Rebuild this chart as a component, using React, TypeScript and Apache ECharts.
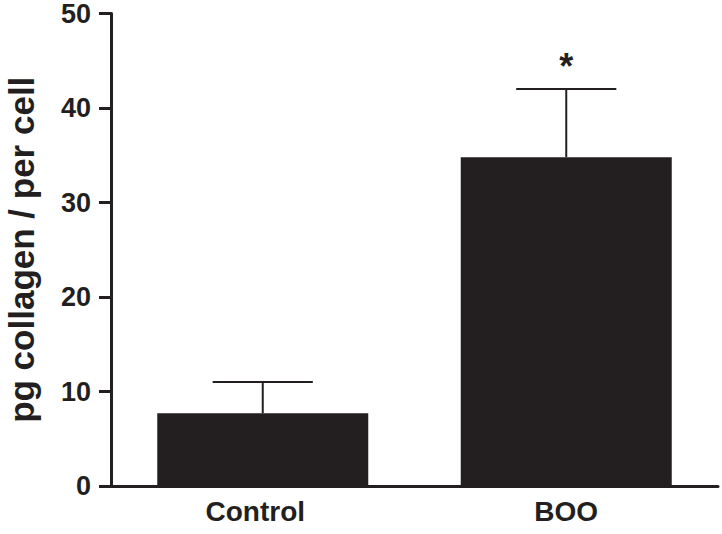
import React, { useEffect, useRef } from "react";
import * as echarts from "echarts";

const categories = ["Control", "BOO"];
const means = [7.7, 34.8];
const upperErrors = [11.0, 42.0];
const markers = ["", "*"];
const yTicks = { min: 0, max: 50, interval: 10 };

const INK = "#231f20";
const FONT = '"Liberation Sans", Arial, Helvetica, sans-serif';

export default function App() {
  const ref = useRef<HTMLDivElement>(null);
  useEffect(() => {
    if (!ref.current) return;
    const chart = echarts.init(ref.current, null, { renderer: "svg" });
    const labelFont = { color: INK, fontFamily: FONT, fontWeight: "bold" as const, fontSize: 28 };
    chart.setOption({
      animation: false,
      backgroundColor: "#ffffff",
      grid: {
        left: 111,
        right: 4,
        top: 13.5,
        bottom: 48,
        containLabel: false,
        outerBoundsMode: "none",
      },
      xAxis: {
        type: "category",
        data: categories,
        axisLine: { show: true, lineStyle: { color: INK, width: 3 } },
        axisTick: { show: false },
        axisLabel: {
          ...labelFont,
          margin: 11,
          formatter: (v: string, idx: number) => (idx === 0 ? `{shift|${v}}` : `{n|${v}}`),
          rich: {
            shift: { ...labelFont, padding: [0, 15, 0, 0] },
            n: { ...labelFont },
          },
        },
      },
      yAxis: {
        type: "value",
        min: yTicks.min,
        max: yTicks.max,
        interval: yTicks.interval,
        name: "pg collagen / per cell",
        nameLocation: "middle",
        nameGap: 72,
        nameTextStyle: {
          color: INK,
          fontFamily: FONT,
          fontWeight: "bold",
          fontSize: 35,
          lineHeight: 36,
        },
        splitLine: { show: false },
        axisLine: { show: true, lineStyle: { color: INK, width: 3 } },
        axisTick: { show: true, length: 12, lineStyle: { color: INK, width: 3 } },
        axisLabel: {
          ...labelFont,
          fontSize: 27,
          lineHeight: 24,
          padding: [4, 0, 0, 0],
          margin: 20,
        },
      },
      series: [
        {
          type: "bar",
          data: means,
          barWidth: 211,
          itemStyle: { color: INK },
          z: 2,
        },
        {
          type: "custom",
          z: 3,
          data: categories.map((c, i) => [i, means[i], upperErrors[i]]),
          renderItem: (params: any, api: any) => {
            const i = api.value(0);
            const m = api.value(1);
            const hi = api.value(2);
            const p0 = api.coord([i, m]);
            const p1 = api.coord([i, hi]);
            const half = api.size([1, 0])[0] * 0.165;
            const style = { stroke: INK, lineWidth: 2 };
            const children: any[] = [
              { type: "line", shape: { x1: p0[0], y1: p0[1], x2: p1[0], y2: p1[1] }, style },
              { type: "line", shape: { x1: p1[0] - half, y1: p1[1], x2: p1[0] + half, y2: p1[1] }, style },
            ];
            const mk = markers[params.dataIndex];
            if (mk) {
              children.push({
                type: "text",
                x: p1[0],
                y: p1[1] - 5,
                style: {
                  text: mk,
                  fill: INK,
                  font: `bold 36px ${FONT}`,
                  align: "center",
                  verticalAlign: "bottom",
                },
              });
            }
            return { type: "group", children };
          },
        },
      ],
    });
    return () => chart.dispose();
  }, []);
  return (
    <div
      ref={ref}
      style={{ position: "fixed", left: 0, top: 0, width: 722, height: 534, background: "#fff" }}
    />
  );
}
